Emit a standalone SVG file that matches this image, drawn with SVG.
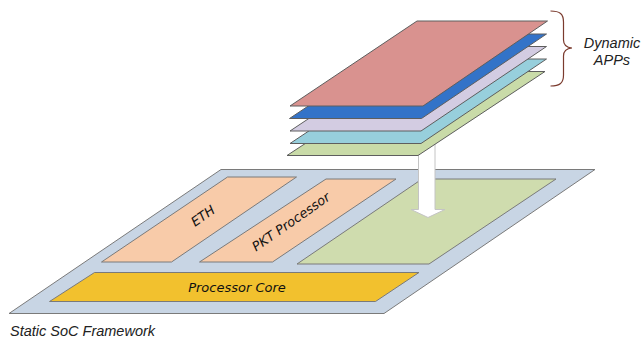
<svg xmlns="http://www.w3.org/2000/svg" width="642" height="339" viewBox="0 0 642 339">
  <style>
    .plate { stroke: #7a7a7a; stroke-width: 1; stroke-linejoin: miter; }
    .layer { stroke: #5e5e5e; stroke-width: 1; stroke-linejoin: miter; }
    .blk { font-family: "DejaVu Sans", Verdana, sans-serif; font-style: italic; font-size: 13px; fill: #111; }
    .cap { font-family: "Liberation Sans", Arial, sans-serif; font-style: italic; font-size: 14.5px; fill: #222; }
  </style>

  <!-- static framework base plate -->
  <g id="soc-framework">
    <polygon class="plate" points="221,169.5 595,169.5 384,313.5 9,313.5" fill="#c8d5e4"/>
  </g>

  <g id="eth">
    <polygon class="plate" points="227.5,177 296.5,177 171.5,262 101.5,262" fill="#f8cba9"/>
    <text class="blk" transform="translate(205.5,219.5) rotate(-35)" text-anchor="middle">ETH</text>
  </g>

  <g id="pkt-processor">
    <polygon class="plate" points="326,179 396,179 272.5,262 199.5,262" fill="#f8cba9"/>
    <text class="blk" transform="translate(293.5,225.5) rotate(-35)" text-anchor="middle">PKT Processor</text>
  </g>

  <g id="app-region">
    <polygon class="plate" points="422,179 556,179 429,264 297,264" fill="#cfdcae"/>
  </g>

  <g id="processor-core">
    <polygon class="plate" points="94.5,272.5 419,272.5 375.5,301.5 49.5,301.5" fill="#f2c12e"/>
    <text class="blk" x="237" y="291.5" text-anchor="middle">Processor Core</text>
  </g>

  <!-- load arrow from the app stack into the free region -->
  <g id="connectors">
    <polygon points="418.5,120 435,120 435,209.5 445,209.5 428,217.5 411,209.5 418.5,209.5"
             fill="#ffffff" stroke="#c4c4c4" stroke-width="1" stroke-linejoin="miter"/>
  </g>

  <!-- stack of dynamic application layers, back to front -->
  <g id="app-green">
    <polygon class="layer" points="415,71.5 545,71.5 418,155.5 287,155.5" fill="#c9dba8"/>
  </g>
  <g id="app-lightblue">
    <polygon class="layer" points="417,59 546.5,59 421,143.5 290,143.5" fill="#97cfdc"/>
  </g>
  <g id="app-lavender">
    <polygon class="layer" points="417,46.5 546.5,46.5 421,131 290,131" fill="#d3cce2"/>
  </g>
  <g id="app-blue">
    <polygon class="layer" points="416.5,34 546.5,34 421.5,118.5 289.5,118.5" fill="#3373c8"/>
  </g>
  <g id="app-pink">
    <polygon class="layer" points="417,21 547.5,21 423,106 290,106" fill="#d9928f"/>
  </g>

  <!-- curly brace grouping the layers -->
  <g id="brace">
    <path d="M550.5,11 C560,11 563.5,14 563.5,22 L563.5,40 C563.5,45 566,47.5 572,48 C566,48.5 563.5,51 563.5,56 L563.5,75 C563.5,83 560,86 550.5,86"
          fill="none" stroke="#7b3b2e" stroke-width="1.2"/>
  </g>

  <g id="labels">
    <text class="cap" x="612" y="47.5" text-anchor="middle">Dynamic</text>
    <text class="cap" x="612" y="64.5" text-anchor="middle">APPs</text>
    <text class="cap" x="10" y="336">Static SoC Framework</text>
  </g>
</svg>
